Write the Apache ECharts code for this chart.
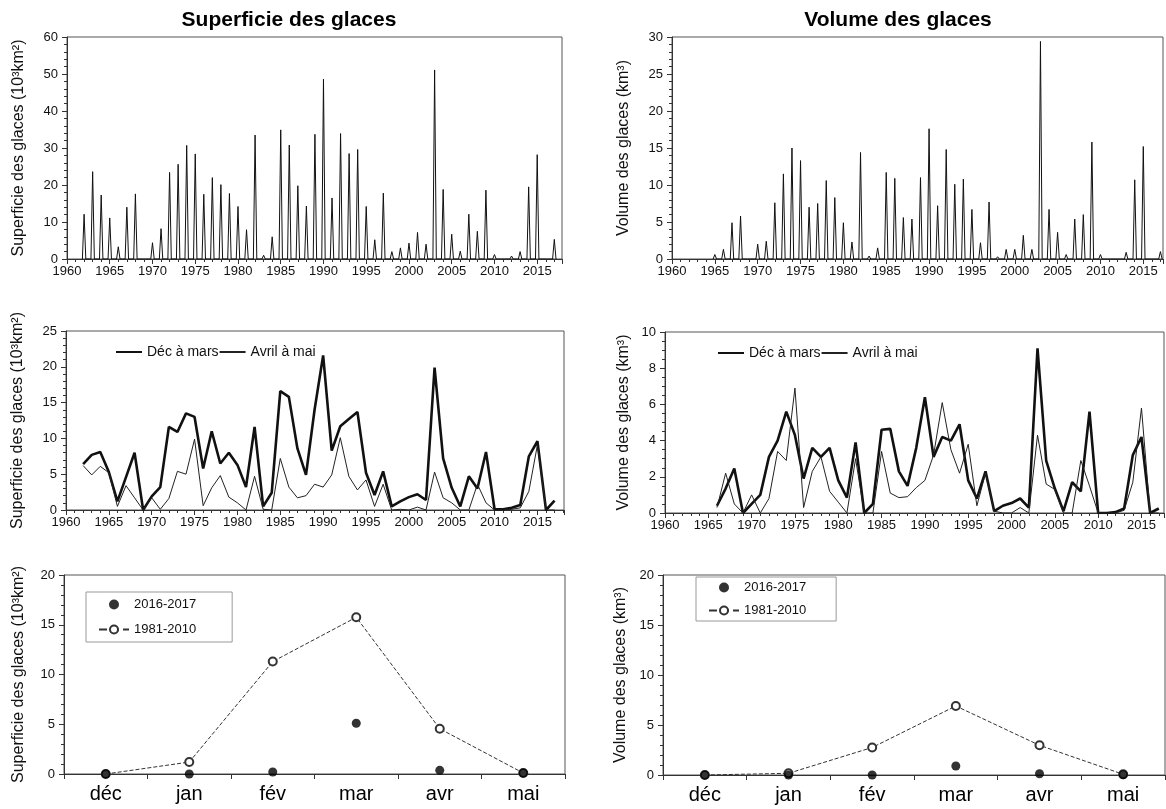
<!DOCTYPE html>
<html><head><meta charset="utf-8">
<script src="https://cdn.jsdelivr.net/npm/echarts@6/dist/echarts.min.js"></script>
<style>html,body{margin:0;padding:0;background:#fff}#c{width:1166px;height:809px}</style>
</head><body><div id="c"></div>
<script>
// ---- data ----
const years = [1962,1963,1964,1965,1966,1967,1968,1969,1970,1971,1972,1973,1974,1975,1976,1977,1978,1979,1980,1981,1982,1983,1984,1985,1986,1987,1988,1989,1990,1991,1992,1993,1994,1995,1996,1997,1998,1999,2000,2001,2002,2003,2004,2005,2006,2007,2008,2009,2010,2011,2012,2013,2014,2015,2016,2017];
// annual maximum ice area (10^3 km2), 1962-2017
const areaPeak = [12.1,23.6,17.3,11.1,3.3,14.0,17.6,0,4.4,8.2,23.4,25.6,30.7,28.4,17.5,22.0,20.1,17.7,14.2,7.9,33.5,1.0,6.0,34.9,30.8,19.8,14.3,33.7,48.6,16.5,33.9,28.5,29.6,14.2,5.2,17.8,2.0,3.0,4.3,7.2,4.0,51.1,18.8,6.7,2.1,12.1,7.5,18.6,1.2,0.3,0.8,2.0,19.5,28.2,0.3,5.3];
// annual maximum ice volume (km3), 1965-2017
const volPeakYears = years.slice(3);
const volumePeak = [0.6,1.3,4.9,5.8,0,2.0,2.4,7.6,11.5,15.0,13.3,7.0,7.5,10.6,8.3,4.9,2.3,14.4,0.4,1.5,11.7,10.9,5.6,5.4,11.0,17.6,7.2,14.8,10.1,10.8,6.7,2.2,7.7,0.3,1.3,1.3,3.2,1.3,29.4,6.7,3.6,0.6,5.4,6.0,15.8,0.6,0,0.1,0.9,10.7,15.2,0,1.0];
// seasonal means, area 1962-2017
const areaDecMar = [6.4,7.7,8.1,5.3,1.2,4.6,8.0,0,1.9,3.2,11.6,10.9,13.5,13.0,5.8,11.0,6.5,8.0,6.3,3.2,11.6,0.5,2.4,16.6,15.8,8.6,4.9,14.0,21.6,8.3,11.7,12.7,13.7,5.2,2.1,5.4,0.5,1.2,1.8,2.2,1.4,19.9,7.2,3.1,0.5,4.7,3.0,8.1,0.1,0.1,0.3,0.7,7.5,9.6,0,1.3];
const areaAprMay = [6.2,4.9,6.1,5.2,0.5,3.4,1.7,0,1.7,0.1,1.6,5.4,5.0,9.9,0.6,3.1,4.8,1.8,1.0,0,4.7,0.1,0,7.2,3.2,1.7,2.0,3.6,3.2,4.9,10.1,4.7,2.8,4.2,0.5,3.6,0,0.1,0,0.4,0,5.3,1.7,1.0,0,0,3.6,1.0,0,0,0.1,0.3,2.6,9.1,0,0];
// seasonal means, volume 1966-2017
const volYears = years.slice(4);
const volDecMar = [0.4,1.35,2.46,0,0.5,1.0,3.1,4.0,5.6,4.3,1.9,3.6,3.1,3.6,1.8,0.85,3.9,0,0.5,4.6,4.65,2.3,1.5,3.6,6.4,3.1,4.2,4.0,4.9,1.8,0.8,2.3,0.1,0.4,0.55,0.8,0.3,9.1,2.9,1.35,0.1,1.7,1.2,5.6,0,0,0.05,0.25,3.2,4.2,0,0.25];
const volAprMay = [0.3,2.2,0.5,0,1.0,0,0.8,3.4,2.9,6.9,0.3,2.3,3.1,1.2,0.6,0,3.0,0,0,3.4,1.1,0.85,0.9,1.4,1.8,3.2,6.1,3.5,2.2,3.8,0.4,2.2,0.1,0,0,0.3,0,4.3,1.6,1.3,0,0,2.9,1.5,0,0,0,0.15,1.7,5.8,0,0];
// monthly
const months = ['déc','jan','fév','mar','avr','mai'];
const areaNormal = [0,1.2,11.3,15.75,4.55,0.1];
const area2017 = [0,0,0.2,5.1,0.37,0.1];
const volNormal = [0,0.17,2.75,6.9,2.97,0.07];
const vol2017 = [0,0,0,0.9,0.13,0.03];

// ---- build ----
function spikes(ys, vs){const p=[];ys.forEach((y,i)=>{p.push([y-0.2,0],[y,vs[i]],[y+0.2,0]);});return p;}
function pairs(ys, vs){return ys.map((y,i)=>[y,vs[i]]);}
const FONT = '"Liberation Sans", Arial, sans-serif';
const AX = {color:'#333', width:1};
function xVal(g,max){return {type:'value',gridIndex:g,min:1960,max:max,interval:5,
  axisLine:{show:true,onZero:false,lineStyle:AX},
  axisTick:{show:true,inside:false,length:5,lineStyle:AX},
  minorTick:{show:true,splitNumber:5,length:3,lineStyle:AX},
  splitLine:{show:false},minorSplitLine:{show:false},
  axisLabel:{fontSize:13,color:'#111',margin:6,showMaxLabel:false,fontFamily:FONT,formatter:v=>(Math.abs(v%5)<1e-6?String(Math.round(v)):'')}};}
function yVal(g,max,interval,minor,name,gap){return {type:'value',gridIndex:g,min:0,max:max,interval:interval,
  name:name,nameLocation:'middle',nameGap:gap,nameTextStyle:{fontSize:16,color:'#111',fontFamily:FONT},
  axisLine:{show:true,onZero:false,lineStyle:AX},
  axisTick:{show:true,inside:false,length:5,lineStyle:AX},
  minorTick:{show:true,splitNumber:minor,length:3,lineStyle:AX},
  splitLine:{show:false},minorSplitLine:{show:false},
  axisLabel:{fontSize:13,color:'#111',margin:9,fontFamily:FONT}};}
function xCat(g){return {type:'category',gridIndex:g,data:months,boundaryGap:true,
  axisLine:{show:true,onZero:false,lineStyle:AX},
  axisTick:{show:true,inside:false,length:5,lineStyle:AX},
  splitLine:{show:false},
  axisLabel:{fontSize:20,color:'#000',margin:10,fontFamily:FONT}};}
const gridBase = {show:true,borderColor:'#555',borderWidth:1,containLabel:false};
const AREA = 'Superficie des glaces (10³km²)';
const VOL = 'Volume des glaces (km³)';
const midLegend = {itemWidth:26,itemHeight:12,itemGap:0,padding:0,itemStyle:{opacity:0},data:['Déc à mars','Avril à mai'],textStyle:{fontSize:14,color:'#111',fontFamily:FONT}};
const botLegend = {orient:'vertical',itemWidth:30,itemHeight:10,borderColor:'#999',borderWidth:1,data:['2016-2017','1981-2010'],textStyle:{fontSize:13,color:'#111',fontFamily:FONT}};

const option = {
  animation:false,
  textStyle:{fontFamily:FONT},
  title:[
    {text:'Superficie des glaces',left:284,top:5,textAlign:'center',textStyle:{fontSize:21,fontWeight:'bold',color:'#000',fontFamily:FONT}},
    {text:'Volume des glaces',left:893,top:5,textAlign:'center',textStyle:{fontSize:21,fontWeight:'bold',color:'#000',fontFamily:FONT}}
  ],
  grid:[
    Object.assign({left:67,top:37,width:495,height:222},gridBase),
    Object.assign({left:672,top:37,width:491,height:222},gridBase),
    Object.assign({left:66,top:331,width:498,height:179},gridBase),
    Object.assign({left:665,top:332,width:499,height:181},gridBase),
    Object.assign({left:64,top:575,width:501,height:199},gridBase),
    Object.assign({left:663,top:575,width:502,height:200},gridBase)
  ],
  xAxis:[xVal(0,2017.9),xVal(1,2017.3),xVal(2,2018.1),xVal(3,2017.6),xCat(4),xCat(5)],
  yAxis:[
    yVal(0,60,10,5,AREA,40),
    yVal(1,30,5,5,VOL,40),
    yVal(2,25,5,5,AREA,40),
    yVal(3,10,2,4,VOL,33),
    yVal(4,20,5,5,AREA,37),
    yVal(5,20,5,5,VOL,34)
  ],
  legend:[
    Object.assign({left:115,top:345},midLegend),
    Object.assign({left:717,top:346},midLegend),
    Object.assign({left:86,top:592,itemGap:12,padding:[6,36,6,12]},botLegend),
    Object.assign({left:696,top:577,itemGap:10,padding:[4,30,4,12]},botLegend)
  ],
  series:[
    {type:'line',xAxisIndex:0,yAxisIndex:0,data:spikes(years,areaPeak),symbol:'none',lineStyle:{color:'#111',width:1},silent:true},
    {type:'line',xAxisIndex:1,yAxisIndex:1,data:spikes(volPeakYears,volumePeak),symbol:'none',lineStyle:{color:'#111',width:1},silent:true},
    {name:'Déc à mars',type:'line',xAxisIndex:2,yAxisIndex:2,data:pairs(years,areaDecMar),symbol:'none',itemStyle:{color:'#111'},lineStyle:{color:'#111',width:2.6}},
    {name:'Avril à mai',type:'line',xAxisIndex:2,yAxisIndex:2,data:pairs(years,areaAprMay),symbol:'none',itemStyle:{color:'#222'},lineStyle:{color:'#222',width:1}},
    {name:'Déc à mars',type:'line',xAxisIndex:3,yAxisIndex:3,data:pairs(volYears,volDecMar),symbol:'none',itemStyle:{color:'#111'},lineStyle:{color:'#111',width:2.6}},
    {name:'Avril à mai',type:'line',xAxisIndex:3,yAxisIndex:3,data:pairs(volYears,volAprMay),symbol:'none',itemStyle:{color:'#222'},lineStyle:{color:'#222',width:1}},
    {name:'1981-2010',type:'line',xAxisIndex:4,yAxisIndex:4,data:areaNormal,symbol:'emptyCircle',symbolSize:8,itemStyle:{color:'#333',borderColor:'#333'},lineStyle:{color:'#333',width:1,type:'dashed'}},
    {name:'2016-2017',type:'scatter',xAxisIndex:4,yAxisIndex:4,data:area2017,symbol:'circle',symbolSize:9,itemStyle:{color:'#000'},z:3},
    {name:'1981-2010',type:'line',xAxisIndex:5,yAxisIndex:5,data:volNormal,symbol:'emptyCircle',symbolSize:8,itemStyle:{color:'#333',borderColor:'#333'},lineStyle:{color:'#333',width:1,type:'dashed'}},
    {name:'2016-2017',type:'scatter',xAxisIndex:5,yAxisIndex:5,data:vol2017,symbol:'circle',symbolSize:9,itemStyle:{color:'#000'},z:3}
  ]
};
echarts.init(document.getElementById('c'),null,{renderer:'canvas'}).setOption(option);
</script>
</body></html>
